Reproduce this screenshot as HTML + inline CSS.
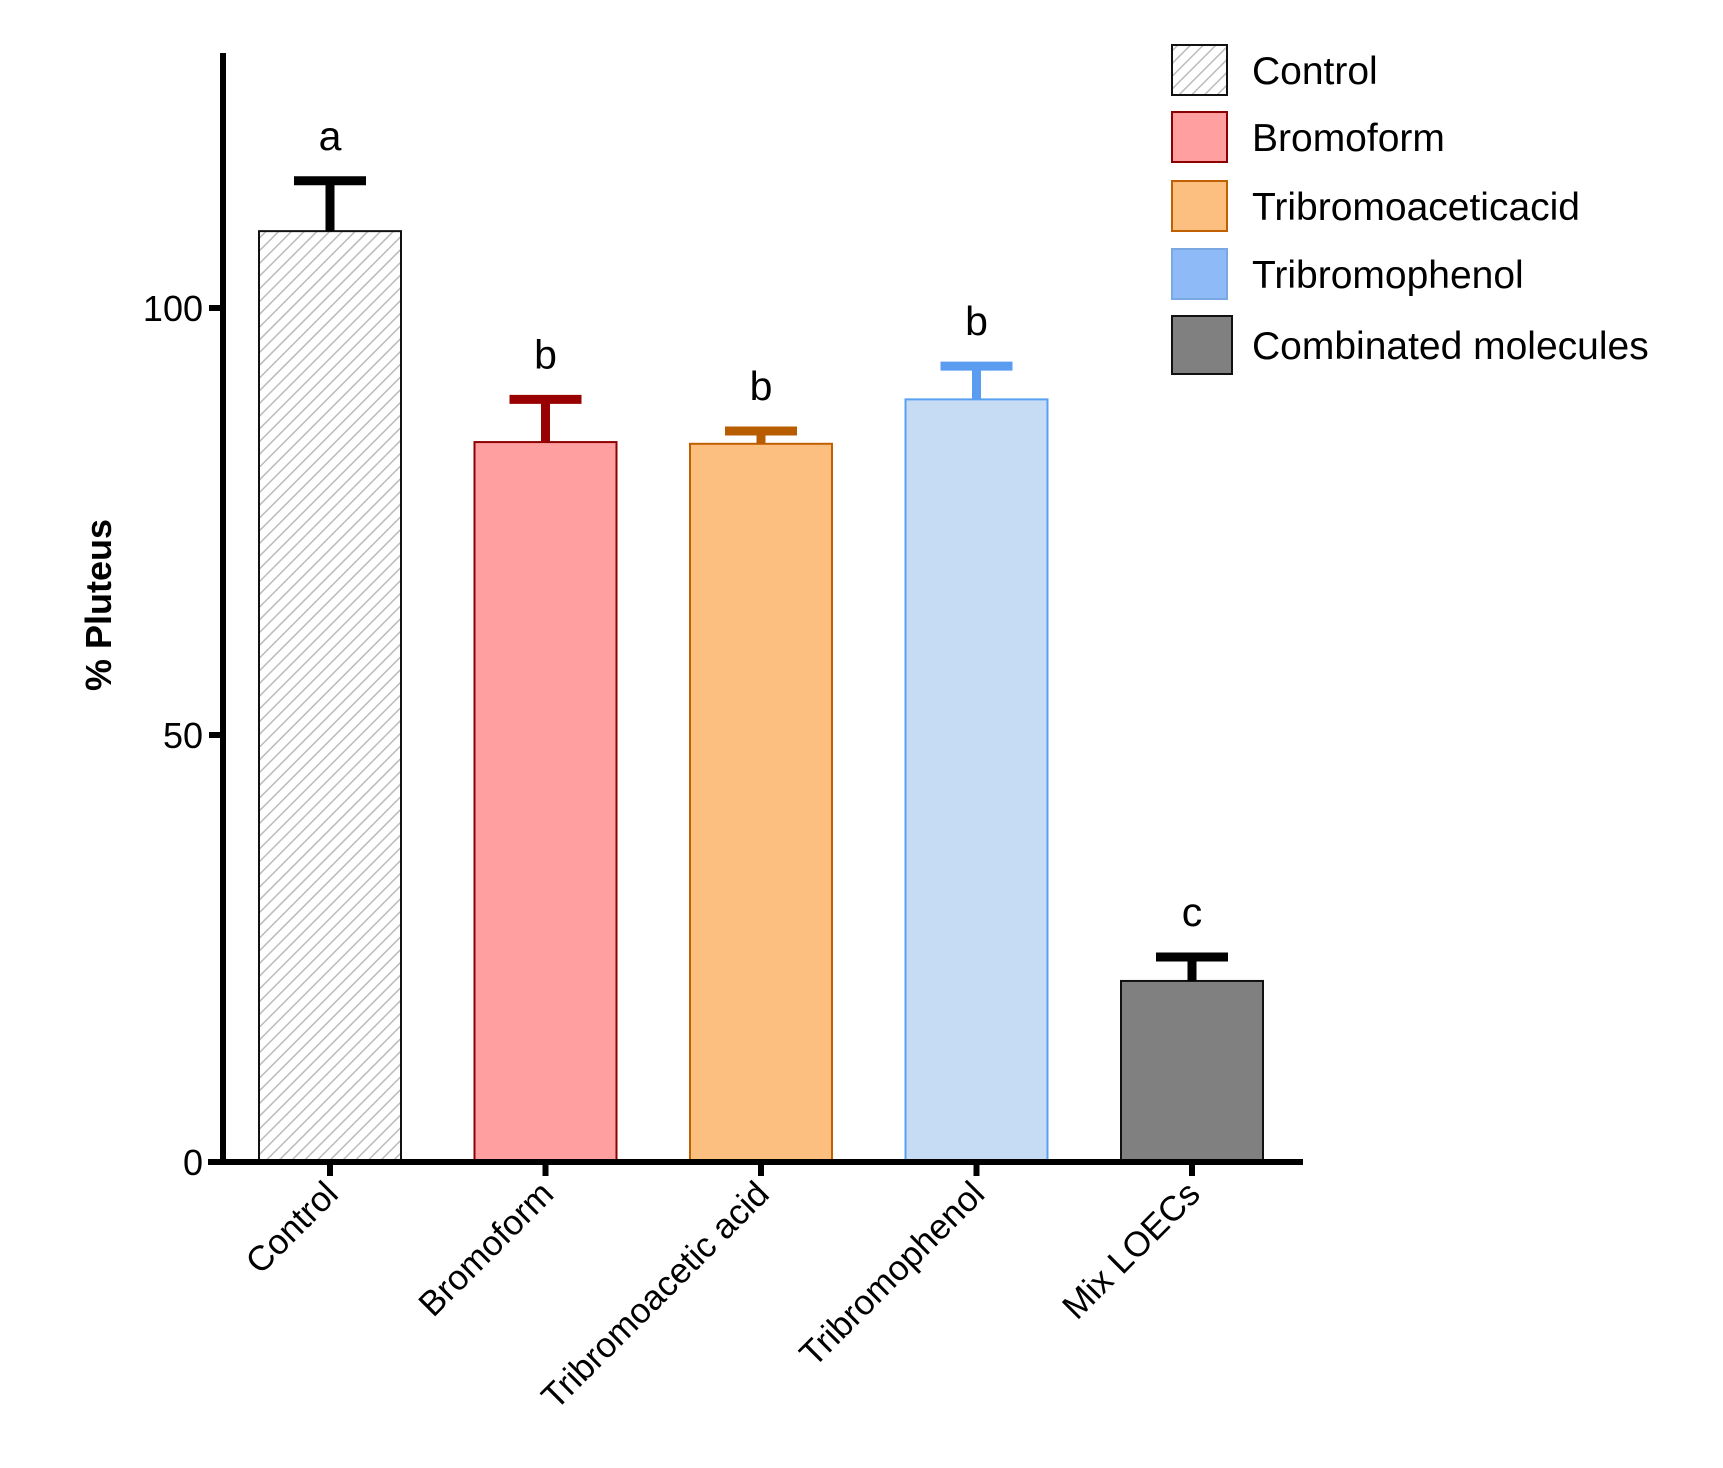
<!DOCTYPE html>
<html><head><meta charset="utf-8">
<style>
html,body{margin:0;padding:0;background:#fff;}
svg{display:block;font-family:"Liberation Sans",Arial,sans-serif;}
</style></head>
<body>
<svg id="chart" width="1723" height="1468" viewBox="0 0 1723 1468" xmlns="http://www.w3.org/2000/svg">
<defs>
<pattern id="hatch" patternUnits="userSpaceOnUse" width="9" height="9" patternTransform="rotate(45)">
<rect width="9" height="9" fill="#fff"/>
<line x1="0" y1="0" x2="0" y2="9" stroke="#bbb" stroke-width="3"/>
</pattern>
</defs>
<g id="plot"></g>
<g id="legend"></g>
</svg>
<script>
const categories = ["Control","Bromoform","Tribromoacetic acid","Tribromophenol","Mix LOECs"];
const means = [109.0, 84.3, 84.1, 89.3, 21.2];
const errors = [5.9, 5.0, 1.5, 3.9, 2.8];
const letters = ["a","b","b","b","c"];
const yTicks = [0, 50, 100];
const legendLabels = ["Control","Bromoform","Tribromoaceticacid","Tribromophenol","Combinated molecules"];

const fills = ["url(#hatch)","#ff9f9f","#fdbf7f","#c6dcf5","#808080"];
const strokes = ["#111","#8b0000","#c06000","#5ba0f0","#111"];
const capColors = ["#000","#990000","#b85c00","#5a9df0","#000"];
const legendFills = ["url(#hatch)","#ff9f9f","#fdbf7f","#8fbaf8","#808080"];
const legendStrokes = ["#111","#8b0000","#c06000","#7aa8e0","#111"];

const NS = "http://www.w3.org/2000/svg";
const x0 = 223, yBase = 1162, pxPerUnit = 8.54, step = 215.5, firstCenter = 330, barW = 142;
const yScale = v => yBase - v * pxPerUnit;
const xScale = i => firstCenter + i * step;

function mk(tag, attrs, parent){
  const el = document.createElementNS(NS, tag);
  for (const k in attrs) el.setAttribute(k, attrs[k]);
  parent.appendChild(el);
  return el;
}
const plot = document.getElementById('plot');

// bars
categories.forEach((c, i) => {
  const cx = xScale(i);
  const top = yScale(means[i]);
  const r = mk('rect', {x: cx - barW/2, y: top, width: barW, height: yBase - top, fill: fills[i], stroke: strokes[i], 'stroke-width': 2}, plot);
  
  
  const capY = yScale(means[i] + errors[i]);
  const g = mk('g', {}, plot);
  
  
  mk('line', {x1: cx, x2: cx, y1: top, y2: capY, stroke: capColors[i], 'stroke-width': 9}, g);
  mk('line', {x1: cx - 36, x2: cx + 36, y1: capY, y2: capY, stroke: capColors[i], 'stroke-width': 9}, g);
  const t = mk('text', {x: cx, y: capY - 31, 'text-anchor': 'middle', 'font-size': 41, fill: '#000'}, plot);
  t.textContent = letters[i];
  
  
  // x tick
  const tk = mk('line', {x1: cx, x2: cx, y1: yBase, y2: yBase + 14, stroke: '#000', 'stroke-width': 6}, plot);
  
  
  const lbl = mk('text', {x: 0, y: 0, 'text-anchor': 'end', 'font-size': 35, fill: '#000', transform: 'translate(' + (cx + 10) + ',' + (yBase + 34) + ') rotate(-45)'}, plot);
  lbl.textContent = c;
  
  
});

// axes
const yAxis = mk('line', {x1: x0, x2: x0, y1: 53, y2: yBase + 3, stroke: '#000', 'stroke-width': 6}, plot);


const xAxis = mk('line', {x1: 208, x2: 1303, y1: yBase, y2: yBase, stroke: '#000', 'stroke-width': 6}, plot);



yTicks.forEach(v => {
  const y = yScale(v);
  const tk = mk('line', {x1: x0 - 14, x2: x0, y1: y, y2: y, stroke: '#000', 'stroke-width': 6}, plot);
  
  
  const t = mk('text', {x: 203, y: y + 13, 'text-anchor': 'end', 'font-size': 36, fill: '#000'}, plot);
  t.textContent = v;
  
  
});

const yt = mk('text', {x: 0, y: 0, 'text-anchor': 'middle', 'font-size': 36, 'font-weight': 'bold', fill: '#000', transform: 'translate(111,605) rotate(-90)'}, plot);
yt.textContent = '% Pluteus';



// legend
const legend = document.getElementById('legend');
const legendTops = [45, 112, 181, 249, 316];
legendLabels.forEach((l, i) => {
  const g = mk('g', {}, legend);
  
  
  const h = i === 4 ? 58 : 50;
  const w = i === 4 ? 60 : 55;
  mk('rect', {x: 1172, y: legendTops[i], width: w, height: h, fill: legendFills[i], stroke: legendStrokes[i], 'stroke-width': 2}, g);
  const t = mk('text', {x: 1252, y: legendTops[i] + h/2 + 14, 'font-size': 39, fill: '#000'}, g);
  t.textContent = l;
});
</script>
</body></html>
